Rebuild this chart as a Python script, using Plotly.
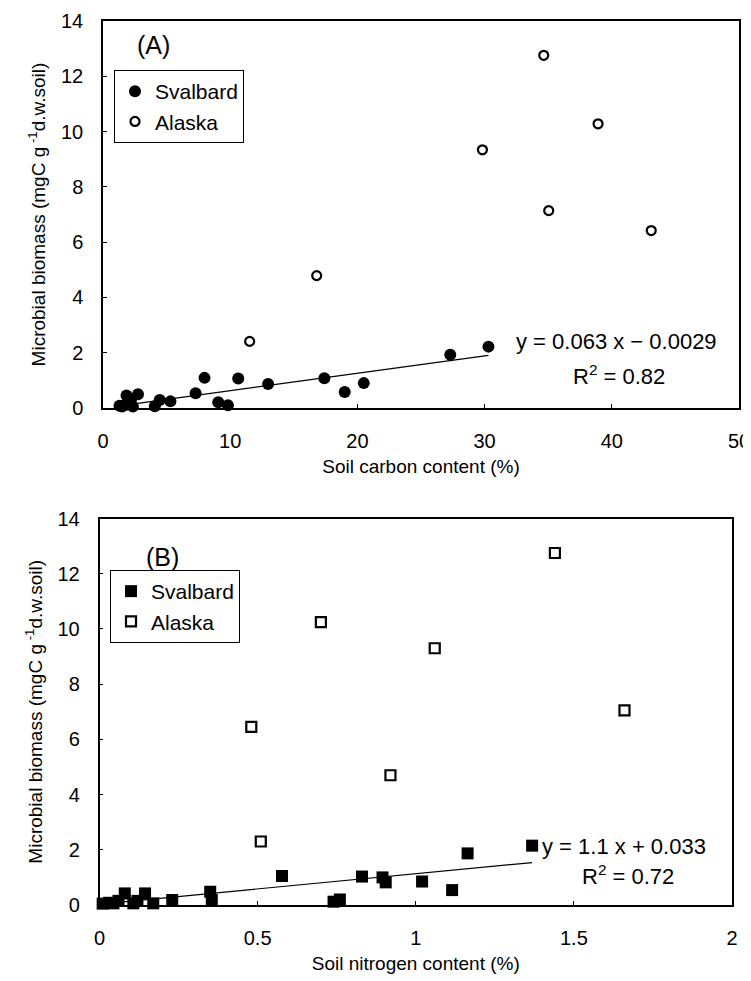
import plotly.graph_objects as go

# ---------------- data ----------------
# Panel A: soil carbon content (%) vs microbial biomass
sval_carbon = [1.3, 1.5, 1.7, 1.85, 2.0, 2.2, 2.35, 2.75, 4.07, 4.46, 5.3, 7.28,
               7.98, 9.06, 9.82, 10.63, 12.98, 17.4, 19.0, 20.5, 27.3, 30.3]
sval_mb_a = [0.08, 0.05, 0.10, 0.45, 0.20, 0.30, 0.05, 0.50, 0.06, 0.29, 0.24, 0.53,
             1.09, 0.21, 0.10, 1.07, 0.87, 1.08, 0.58, 0.90, 1.93, 2.22]
alaska_carbon = [34.65, 38.92, 29.83, 35.04, 43.1, 16.8, 11.53]
alaska_mb_a = [12.76, 10.28, 9.34, 7.14, 6.42, 4.79, 2.41]

# Panel B: soil nitrogen content (%) vs microbial biomass
sval_nitrogen = [0.01, 0.03, 0.044, 0.06, 0.08, 0.107, 0.12, 0.144, 0.17, 0.23, 0.35,
                 0.355, 0.577, 0.74, 0.76, 0.83, 0.895, 0.905, 1.02, 1.115, 1.164, 1.368]
sval_mb_b = [0.05, 0.08, 0.06, 0.15, 0.42, 0.06, 0.15, 0.42, 0.06, 0.18, 0.48,
             0.18, 1.05, 0.12, 0.20, 1.03, 1.00, 0.82, 0.85, 0.54, 1.87, 2.15]
alaska_nitrogen = [1.44, 0.70, 1.06, 1.66, 0.48, 0.92, 0.51]
alaska_mb_b = [12.75, 10.25, 9.30, 7.05, 6.45, 4.70, 2.30]

# Regression (Svalbard) parameters
fit_slope = [0.063, 1.1]
fit_intercept = [-0.0029, 0.033]
fit_r2 = [0.82, 0.72]

x_ticks_a = [0, 10, 20, 30, 40, 50]
x_ticks_b = [0, 0.5, 1, 1.5, 2]
x_ticktext_b = ["0", "0.5", "1", "1.5", "2"]
y_ticks = [0, 2, 4, 6, 8, 10, 12, 14]

# ---------------- figure ----------------
PAGE_OFF = 8                      # default body margin of the html page
W, H = 751 - PAGE_OFF, 981 - PAGE_OFF
FONT = "Liberation Sans, Arial, sans-serif"
fig = go.Figure()

def fit_line(xs, k):
    x0, x1 = min(xs), max(xs)
    return [x0, x1], [fit_slope[k] * x0 + fit_intercept[k], fit_slope[k] * x1 + fit_intercept[k]]

# Panel A
lx, ly = fit_line(sval_carbon, 0)
fig.add_trace(go.Scatter(x=lx, y=ly, mode="lines", line=dict(color="black", width=1.2),
                         showlegend=False, xaxis="x", yaxis="y", hoverinfo="skip"))
fig.add_trace(go.Scatter(x=sval_carbon, y=sval_mb_a, mode="markers", name="Svalbard",
                         marker=dict(symbol="circle", size=12, color="black"),
                         xaxis="x", yaxis="y", legend="legend", cliponaxis=False))
fig.add_trace(go.Scatter(x=alaska_carbon, y=alaska_mb_a, mode="markers", name="Alaska",
                         marker=dict(symbol="circle-open", size=9, color="black",
                                     line=dict(width=2.2, color="black")),
                         xaxis="x", yaxis="y", legend="legend", cliponaxis=False))

# Panel B
lx, ly = fit_line(sval_nitrogen, 1)
fig.add_trace(go.Scatter(x=lx, y=ly, mode="lines", line=dict(color="black", width=1.2),
                         showlegend=False, xaxis="x2", yaxis="y2", hoverinfo="skip"))
fig.add_trace(go.Scatter(x=sval_nitrogen, y=sval_mb_b, mode="markers", name="Svalbard",
                         marker=dict(symbol="square", size=12, color="black"),
                         xaxis="x2", yaxis="y2", legend="legend2", cliponaxis=False))
fig.add_trace(go.Scatter(x=alaska_nitrogen, y=alaska_mb_b, mode="markers", name="Alaska",
                         marker=dict(symbol="square-open", size=10, color="black",
                                     line=dict(width=2.2, color="black")),
                         xaxis="x2", yaxis="y2", legend="legend2", cliponaxis=False))

def px_x(p):
    return (p - PAGE_OFF) / W

def px_y(p):
    return 1 - (p - PAGE_OFF) / H

axis_common = dict(showgrid=False, zeroline=False, showline=True, mirror=True,
                   linecolor="black", linewidth=1.5, ticks="inside", ticklen=4,
                   tickcolor="black", automargin=False,
                   tickfont=dict(family=FONT, size=20, color="black"))

ytitle = dict(text="Microbial biomass (mgC g<sup> -1</sup>d.w.soil)",
              font=dict(family=FONT, size=19, color="black"), standoff=10)

legend_common = dict(xanchor="left", yanchor="top", bordercolor="black", borderwidth=1,
                     bgcolor="white", font=dict(family=FONT, size=21, color="black"),
                     itemwidth=30, tracegroupgap=0)

fig.update_layout(
    width=W, height=H, margin=dict(l=0, r=0, t=0, b=0, autoexpand=False),
    paper_bgcolor="white", plot_bgcolor="white",
    xaxis=dict(domain=[px_x(103), px_x(739)], range=[0, 50], tickvals=x_ticks_a,
               anchor="y", ticklabelstandoff=14,
               title=dict(text="Soil carbon content (%)",
                          font=dict(family=FONT, size=19, color="black"), standoff=9),
               **axis_common),
    yaxis=dict(domain=[px_y(408), px_y(21)], range=[0, 14], tickvals=y_ticks,
               anchor="x", ticklabelstandoff=14, title=ytitle, **axis_common),
    xaxis2=dict(domain=[px_x(99.5), px_x(732)], range=[0, 2], tickvals=x_ticks_b,
                ticktext=x_ticktext_b, anchor="y2", ticklabelstandoff=14,
                title=dict(text="Soil nitrogen content (%)",
                           font=dict(family=FONT, size=19, color="black"), standoff=9),
                **axis_common),
    yaxis2=dict(domain=[px_y(905), px_y(518.5)], range=[0, 14], tickvals=y_ticks,
                anchor="x2", ticklabelstandoff=14, title=ytitle, **axis_common),
    legend=dict(x=px_x(114), y=px_y(70), **legend_common),
    legend2=dict(x=px_x(110), y=px_y(570), **legend_common),
)

ann_font = dict(family=FONT, size=22, color="black")
def ann(text, x, y, xanchor="center", size=None):
    f = dict(ann_font) if size is None else dict(family=FONT, size=size, color="black")
    return dict(text=text, x=px_x(x), y=px_y(y), xref="paper", yref="paper",
                xanchor=xanchor, yanchor="middle", showarrow=False, font=f)

annotations = [
    ann("(A)", 153, 45, size=25),
    ann("(B)", 162, 557, size=25),
    ann(f"y = {fit_slope[0]} x − {abs(fit_intercept[0])}", 514, 341, xanchor="left"),
    ann(f"R<sup>2</sup> = {fit_r2[0]}", 619, 375),
    ann(f"y = {fit_slope[1]} x + {fit_intercept[1]}", 540, 846, xanchor="left"),
    ann(f"R<sup>2</sup> = {fit_r2[1]}", 628, 875),
]
fig.update_layout(annotations=annotations)

fig.write_html("out.html")
